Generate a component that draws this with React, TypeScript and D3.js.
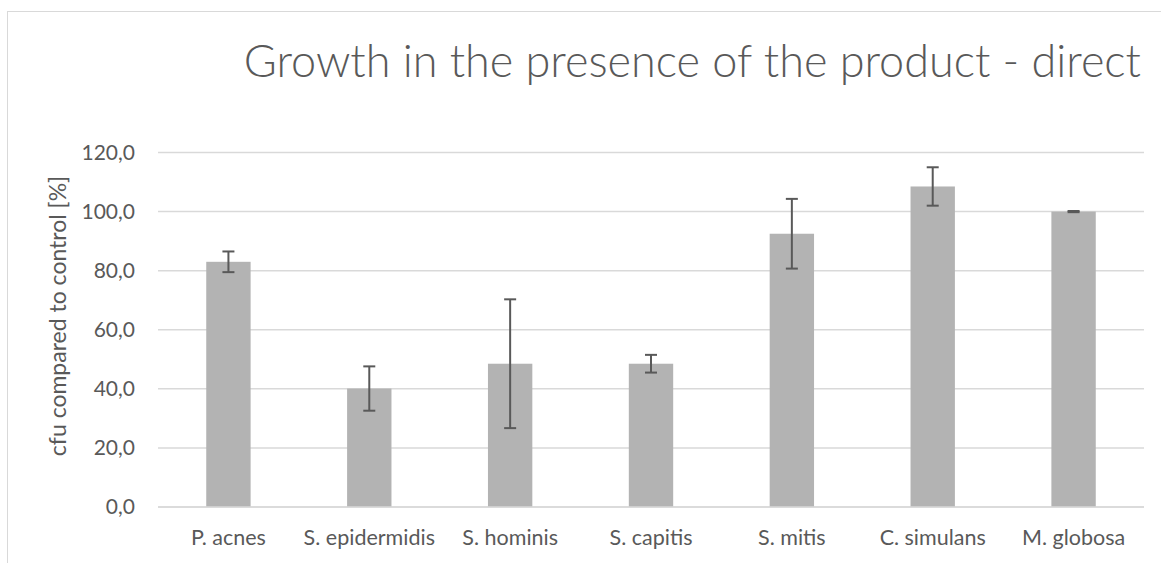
import React from 'react';
import * as d3 from 'd3';

const categories = ['P. acnes', 'S. epidermidis', 'S. hominis', 'S. capitis', 'S. mitis', 'C. simulans', 'M. globosa'];
const means = [83.0, 40.1, 48.5, 48.5, 92.5, 108.5, 100.0];
const errors = [3.5, 7.5, 21.8, 3.0, 11.8, 6.5, 0.2];
const yTicks = [0, 20, 40, 60, 80, 100, 120];

const W = 1161;
const H = 563;
const FONT = 'Lato, "Open Sans", sans-serif';

const App: React.FC = () => {
  const svgRef = React.useRef<SVGSVGElement>(null);

  React.useEffect(() => {
    if (!svgRef.current) return;
    const svg = d3.select(svgRef.current);
    svg.selectAll('*').remove();

    // outer chart border
    svg.append('rect')
      .attr('x', 7.5).attr('y', 11.5)
      .attr('width', W).attr('height', H)
      .attr('fill', '#fff').attr('stroke', '#d9d9d9');

    const x = d3.scaleBand<string>()
      .domain(categories)
      .range([158, 1144])
      .paddingInner(0.685)
      .paddingOuter(0.3425);

    const y = d3.scaleLinear().domain([0, 120]).range([507, 152.5]);

    // gridlines
    svg.append('g')
      .selectAll('line')
      .data(yTicks)
      .enter().append('line')
      .attr('x1', 158).attr('x2', 1144)
      .attr('y1', d => y(d)).attr('y2', d => y(d))
      .attr('stroke', '#d9d9d9').attr('stroke-width', 1.5);

    // y tick labels
    svg.append('g')
      .selectAll('text')
      .data(yTicks)
      .enter().append('text')
      .attr('x', 135).attr('y', d => y(d) + 7)
      .attr('text-anchor', 'end')
      .attr('font-family', FONT).attr('font-size', 21)
      .attr('fill', '#595959')
      .text(d => d3.format('.1f')(d).replace('.', ','));

    // bars
    svg.append('g')
      .selectAll('rect')
      .data(categories)
      .enter().append('rect')
      .attr('x', d => x(d) || 0)
      .attr('width', x.bandwidth())
      .attr('y', (d, i) => y(means[i]))
      .attr('height', (d, i) => y(0) - y(means[i]))
      .attr('fill', '#b3b3b3');

    // error bars
    const eb = svg.append('g').attr('stroke', '#595959').attr('stroke-width', 2);
    categories.forEach((c, i) => {
      const cx = (x(c) || 0) + x.bandwidth() / 2;
      const top = y(means[i] + errors[i]);
      const bot = y(means[i] - errors[i]);
      eb.append('line').attr('x1', cx).attr('x2', cx).attr('y1', top).attr('y2', bot);
      eb.append('line').attr('x1', cx - 6).attr('x2', cx + 6).attr('y1', top).attr('y2', top);
      eb.append('line').attr('x1', cx - 6).attr('x2', cx + 6).attr('y1', bot).attr('y2', bot);
    });

    // x axis line
    svg.append('line')
      .attr('x1', 158).attr('x2', 1144)
      .attr('y1', y(0)).attr('y2', y(0))
      .attr('stroke', '#d9d9d9').attr('stroke-width', 1.5);

    // x labels
    svg.append('g')
      .selectAll('text')
      .data(categories)
      .enter().append('text')
      .attr('x', d => (x(d) || 0) + x.bandwidth() / 2)
      .attr('y', 545)
      .attr('text-anchor', 'middle')
      .attr('font-family', FONT).attr('font-size', 21.5)
      .attr('fill', '#595959')
      .text(d => d);

    // y axis title
    svg.append('text')
      .attr('transform', 'translate(66, 316) rotate(-90)')
      .attr('text-anchor', 'middle')
      .attr('font-family', FONT).attr('font-size', 23)
      .attr('fill', '#595959')
      .text('cfu compared to control [%]');

    // chart title
    svg.append('text')
      .attr('x', 1141).attr('y', 77)
      .attr('text-anchor', 'end')
      .attr('font-family', FONT).attr('font-size', 45).attr('font-weight', 300)
      .attr('fill', '#595959')
      .text('Growth in the presence of the product - direct');
  }, []);

  return (
    <svg ref={svgRef} width={W} height={H}
      style={{ position: 'absolute', left: 0, top: 0, display: 'block' }} />
  );
};

export default App;
